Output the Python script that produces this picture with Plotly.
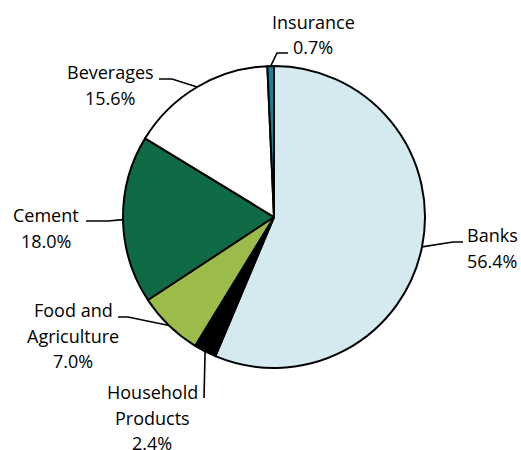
import math
import plotly.graph_objects as go

# ---- data ----
sectors = ["Banks", "Household Products", "Food and Agriculture", "Cement", "Beverages", "Insurance"]
shares = [56.4, 2.4, 7.0, 18.0, 15.6, 0.7]
label_lines = [["Banks"], ["Household", "Products"], ["Food and", "Agriculture"],
               ["Cement"], ["Beverages"], ["Insurance"]]
colors = ["#D4EAF0", "#000000", "#9BBB4A", "#0E6B46", "#FFFFFF", "#17809A"]

# ---- layout constants (pixels) ----
W, H = 521, 450
CX, CY, R = 274, 217, 151
FONT = dict(family="'Open Sans', Lato, sans-serif", size=18, color="#000000")
LINE_GAP = 25.5
# per label: elbow point, end point, text centre x, first line centre y
label_layout = {
    "Banks": dict(elbow=(453, 242), end=(463, 242), tx=492, ty=235),
    "Household Products": dict(elbow=(204, 398), end=(204, 398), tx=152, ty=392),
    "Food and Agriculture": dict(elbow=(128, 317), end=(118, 317), tx=73, ty=310),
    "Cement": dict(elbow=(108, 221), end=(86, 221), tx=46, ty=215),
    "Beverages": dict(elbow=(172, 79), end=(159, 79), tx=110, ty=72),
    "Insurance": dict(elbow=(277, 53), end=(288, 53), tx=313, ty=22),
}

def px(x):
    return x / W

def py(y):
    return 1 - y / H

fig = go.Figure(go.Pie(
    labels=sectors,
    values=shares,
    sort=False,
    direction="clockwise",
    rotation=0,
    marker=dict(colors=colors, line=dict(color="#000000", width=2)),
    textinfo="none",
    hoverinfo="label+percent",
    showlegend=False,
    domain=dict(x=[px(CX - R), px(CX + R)], y=[py(CY + R), py(CY - R)]),
))

total = sum(shares)
cum = 0.0
shapes = []
annotations = []
for name, val, lines in zip(sectors, shares, label_lines):
    mid = (cum + val / 2) / total * 2 * math.pi
    cum += val
    ex = CX + R * math.sin(mid)
    ey = CY - R * math.cos(mid)
    L = label_layout[name]
    (bx, by), (tx_, ty_) = L["elbow"], L["end"]
    shapes.append(dict(
        type="path", xref="paper", yref="paper",
        path=f"M {px(ex)},{py(ey)} L {px(bx)},{py(by)} L {px(tx_)},{py(ty_)}",
        line=dict(color="#000000", width=1.6),
    ))
    all_lines = lines + [f"{val:.1f}%"]
    for i, t in enumerate(all_lines):
        annotations.append(dict(
            text=t, xref="paper", yref="paper",
            x=px(L["tx"]), y=py(L["ty"] + i * LINE_GAP),
            xanchor="center", yanchor="middle", showarrow=False, font=FONT,
        ))

fig.update_layout(
    width=W, height=H,
    margin=dict(l=0, r=0, t=0, b=0),
    paper_bgcolor="#FFFFFF",
    plot_bgcolor="#FFFFFF",
    shapes=shapes,
    annotations=annotations,
)

fig.write_html("out.html",
               config={"displayModeBar": False},
               post_script="document.body.style.margin='0';document.body.style.overflow='hidden';")
